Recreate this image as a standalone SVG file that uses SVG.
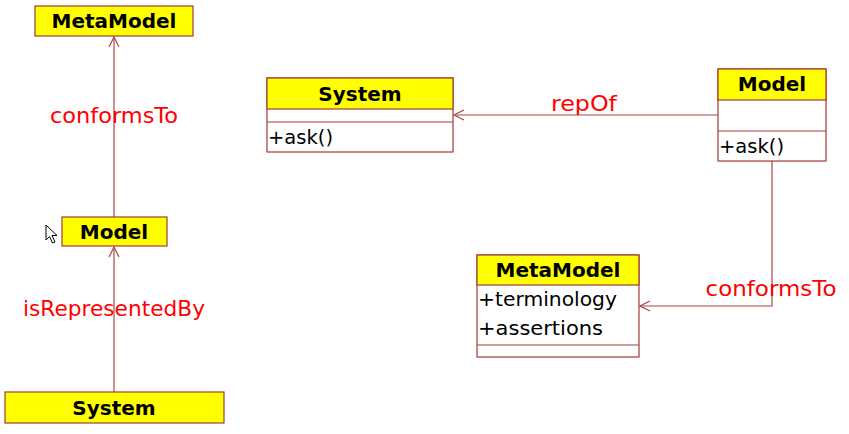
<svg xmlns="http://www.w3.org/2000/svg" width="849" height="434" viewBox="0 0 849 434">
<style>
.box{fill:#ffffff;stroke:#a33a3a;stroke-width:1.2}
.hdr{fill:#ffff00;stroke:#a33a3a;stroke-width:1.2}
.sep{stroke:#a33a3a;stroke-width:1.2}
.title{font-family:"Comic Sans MS","DejaVu Sans",sans-serif;font-weight:bold;font-size:20px;fill:#000;text-anchor:middle}
.attr{font-family:"Comic Sans MS","DejaVu Sans",sans-serif;font-size:20px;fill:#000}
.lbl{font-family:"Comic Sans MS","DejaVu Sans",sans-serif;font-size:21px;fill:#ff0000;text-anchor:middle}
.conn{fill:none;stroke:#a84848;stroke-width:1.2}
</style>
<defs>
<marker id="open" viewBox="0 0 12 12" refX="11" refY="6" markerWidth="12" markerHeight="12" markerUnits="userSpaceOnUse" orient="auto">
<path d="M1,1 L11,6 L1,11" fill="none" stroke="#a84848" stroke-width="1.2"/>
</marker>
</defs>
<rect width="849" height="434" fill="#ffffff"/>
<g id="connectors">
<path class="conn" d="M114,217 L114,37" marker-end="url(#open)"/>
<path class="conn" d="M114,392 L114,247" marker-end="url(#open)"/>
<path class="conn" d="M718,115 L454,115" marker-end="url(#open)"/>
<path class="conn" d="M772,161 L772,306 L640,306" marker-end="url(#open)"/>
</g>
<g id="labels">
<text class="lbl" x="114" y="123" textLength="128" lengthAdjust="spacingAndGlyphs">conformsTo</text>
<text class="lbl" x="114" y="316" textLength="182" lengthAdjust="spacingAndGlyphs">isRepresentedBy</text>
<text class="lbl" x="584" y="111" textLength="66" lengthAdjust="spacingAndGlyphs">repOf</text>
<text class="lbl" x="771" y="296" textLength="131" lengthAdjust="spacingAndGlyphs">conformsTo</text>
</g>
<g id="metamodel-left">
<rect class="hdr" x="35" y="6" width="158" height="30"/>
<text class="title" x="114" y="28">MetaModel</text>
</g>
<g id="model-left">
<rect class="hdr" x="62" y="217" width="105" height="29"/>
<text class="title" x="114" y="239">Model</text>
</g>
<g id="system-left">
<rect class="hdr" x="5" y="392" width="219" height="31"/>
<text class="title" x="114" y="415">System</text>
</g>
<g id="system-right">
<rect class="box" x="267" y="78" width="186" height="74"/>
<rect class="hdr" x="267" y="78" width="186" height="31"/>
<line class="sep" x1="267" y1="122" x2="453" y2="122"/>
<text class="title" x="360" y="101">System</text>
<text class="attr" x="268" y="144" textLength="65" lengthAdjust="spacingAndGlyphs">+ask()</text>
</g>
<g id="model-right">
<rect class="box" x="718" y="69" width="108" height="92"/>
<rect class="hdr" x="718" y="69" width="108" height="31"/>
<line class="sep" x1="718" y1="131" x2="826" y2="131"/>
<text class="title" x="772" y="91">Model</text>
<text class="attr" x="719" y="153" textLength="65" lengthAdjust="spacingAndGlyphs">+ask()</text>
</g>
<g id="metamodel-right">
<rect class="box" x="477" y="255" width="162" height="102"/>
<rect class="hdr" x="477" y="255" width="162" height="30"/>
<line class="sep" x1="477" y1="345" x2="639" y2="345"/>
<text class="title" x="558" y="277">MetaModel</text>
<text class="attr" x="478" y="306" textLength="139" lengthAdjust="spacingAndGlyphs">+terminology</text>
<text class="attr" x="478" y="335" textLength="125" lengthAdjust="spacingAndGlyphs">+assertions</text>
</g>
<g id="cursor">
<path d="M46,225 L46,240 L49.5,236.5 L52.5,243 L55,242 L52,235.5 L57,235.5 Z" fill="#ffffff" stroke="#000000" stroke-width="1" stroke-linejoin="round"/>
</g>
</svg>
